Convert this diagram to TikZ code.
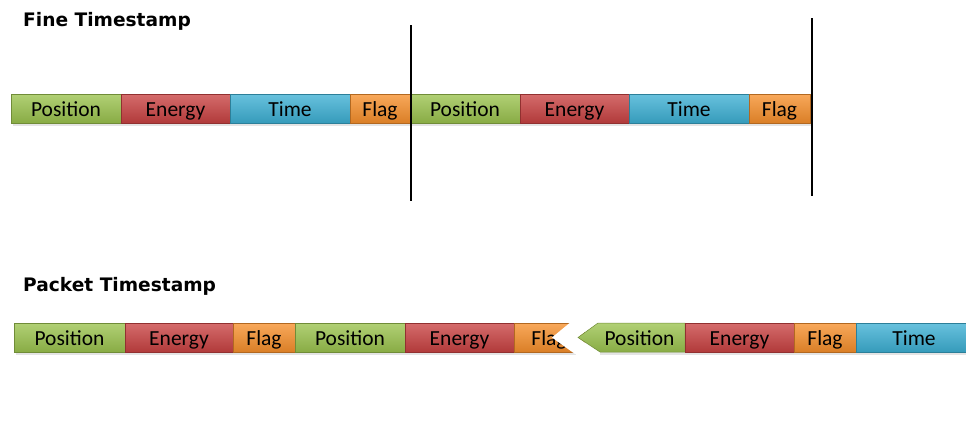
\documentclass[tikz,border=0pt]{standalone}
\usepackage{fontspec}
\setmainfont{Carlito}
\newfontfamily\headfont{DejaVu Sans}

\definecolor{posc}{HTML}{9BC34E}
\definecolor{enec}{HTML}{C94242}
\definecolor{timc}{HTML}{3DB0D4}
\definecolor{flgc}{HTML}{F7902C}

\tikzset{
  segfill/.style={top color=#1!78!white, middle color=#1, bottom color=#1!88!black,
    draw=#1!72!black, line width=0.5pt},
  seglabel/.style={rectangle, inner sep=0pt, outer sep=0pt, anchor=west,
    minimum height=29pt, text height=16pt, text depth=1pt,
    font=\fontsize{21.5}{23}\selectfont, text=black},
  seg/.style={seglabel, segfill=#1},
  heading/.style={anchor=base west, inner sep=0pt,
    font=\headfont\bfseries\fontsize{18.6}{20}\selectfont},
  marker/.style={line width=1.6pt, black},
  shade/.style={fill=black!30, opacity=0.35},
}

\begin{document}
\begin{tikzpicture}[x=1pt, y=-1pt]
\useasboundingbox (0,0) rectangle (966,423);

% headings
\node[heading] (h1) at (23,26) {Fine Timestamp};
\node[heading] (h2) at (23,291) {Packet Timestamp};

% soft shadows under the bars
\fill[shade] (13,97) rectangle (812,126);
\fill[shade] (16,326) rectangle (576,355);
\fill[shade] (600,326) rectangle (968,355);

% fine timestamp: two words of Position / Energy / Time / Flag
\node[seg=posc, minimum width=110pt] (fp1) at (11,108.5) {Position};
\node[seg=enec, minimum width=109pt] (fe1) at (fp1.east) {Energy};
\node[seg=timc, minimum width=120pt] (ft1) at (fe1.east) {Time};
\node[seg=flgc, minimum width=60pt]  (ff1) at (ft1.east) {Flag};
\node[seg=posc, minimum width=110pt] (fp2) at (ff1.east) {Position};
\node[seg=enec, minimum width=109pt] (fe2) at (fp2.east) {Energy};
\node[seg=timc, minimum width=120pt] (ft2) at (fe2.east) {Time};
\node[seg=flgc, minimum width=61pt]  (ff2) at (ft2.east) {Flag};

% word boundaries
\coordinate (m1a) at (411,25);  \coordinate (m1b) at (411,201);
\coordinate (m2a) at (812,18);  \coordinate (m2b) at (812,196);
\draw[marker] (m1a) -- (m1b);
\draw[marker] (m2a) -- (m2b);

% packet timestamp
\node[seg=posc, minimum width=111pt] (pp1) at (14,337.5) {Position};
\node[seg=enec, minimum width=108pt] (pe1) at (pp1.east) {Energy};
\node[seg=flgc, minimum width=62pt]  (pf1) at (pe1.east) {Flag};
\node[seg=posc, minimum width=110pt] (pp2) at (pf1.east) {Position};
\node[seg=enec, minimum width=109pt] (pe2) at (pp2.east) {Energy};
\node[seg=flgc, minimum width=70pt]  (pf2) at (pe2.east) {Flag};

% break in the stream: white chevron cut
\fill[white] (572,321) -- (552,337.5) -- (575,354) -- (600,354) -- (578,337.5) -- (598,321) -- cycle;

% resumed stream, starting with a pointed Position field
\path[segfill=posc]
  (578,337.5) -- (598,323) -- (685,323) -- (685,352) -- (600,352) -- cycle;
\node[seglabel, minimum width=87pt] (pp3) at (596,337.5) {Position};
\node[seg=enec, minimum width=109pt] (pe3) at (685,337.5) {Energy};
\node[seg=flgc, minimum width=62pt]  (pf3) at (pe3.east) {Flag};
\node[seg=timc, minimum width=116pt] (pt3) at (pf3.east) {Time};
\end{tikzpicture}
\end{document}
